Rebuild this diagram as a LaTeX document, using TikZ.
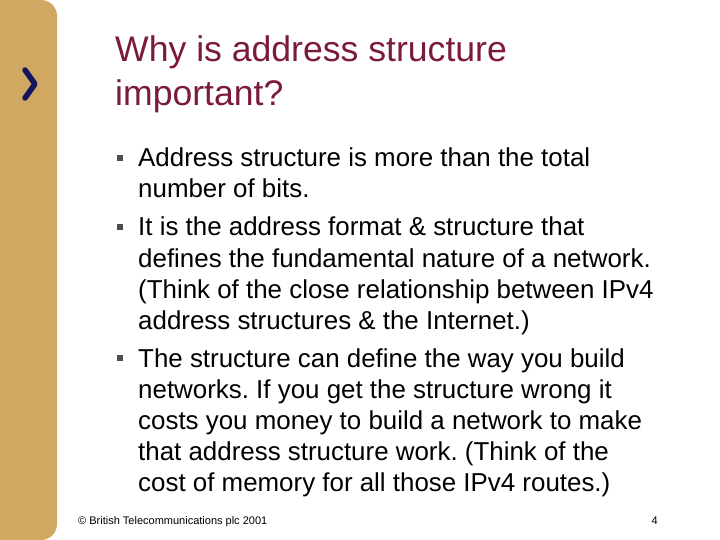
\documentclass[tikz,border=0pt]{standalone}
\usepackage{fontspec}
\setmainfont{Liberation Sans}
\definecolor{barc}{HTML}{D0A862}
\definecolor{titc}{HTML}{7B1A3C}
\definecolor{chev}{HTML}{14145E}
\frenchspacing
\begin{document}
\begin{tikzpicture}[x=1pt,y=-1pt,
  tl/.style={anchor=base west,inner sep=0,font=\fontsize{35.6}{35}\selectfont,text=titc},
  bl/.style={anchor=base west,inner sep=0,font=\fontsize{25.9}{25}\selectfont},
  bul/.style={fill=black!70,minimum size=6pt,inner sep=0}]
\useasboundingbox (0,0) rectangle (720,540);
\fill[barc,rounded corners=16pt] (-20,0) rectangle (57,540);
\draw[chev,line width=5.5pt,line cap=round,line join=round] (25,70) -- (35,84) -- (25,98);
\node[tl] (t1) at (115,62) {Why is address structure};
\node[tl] (t2) at (115,106) {important?};
\node[bul] (b1) at (120,158) {};
\node[bul] (b2) at (120,227) {};
\node[bul] (b3) at (120,358) {};
\foreach \y/\s [count=\i] in {
167/{Address structure is more than the total},
198/{number of bits.},
236/{It is the address format \& structure that},
267/{defines the fundamental nature of a network.},
298/{(Think of the close relationship between IPv4},
329/{address structures \& the Internet.)},
367/{The structure can define the way you build},
398/{networks. If you get the structure wrong it},
429/{costs you money to build a network to make},
460/{that address structure work. (Think of the},
491/{cost of memory for all those IPv4 routes.)}}
  \node[bl] (l\i) at (138,\y) {\s};
\node[anchor=base west,inner sep=0,font=\fontsize{11}{11}\selectfont] (f) at (78,524) {© British Telecommunications plc 2001};
\node[anchor=base east,inner sep=0,font=\fontsize{11}{11}\selectfont] (p) at (658,524) {4};
\end{tikzpicture}
\end{document}
